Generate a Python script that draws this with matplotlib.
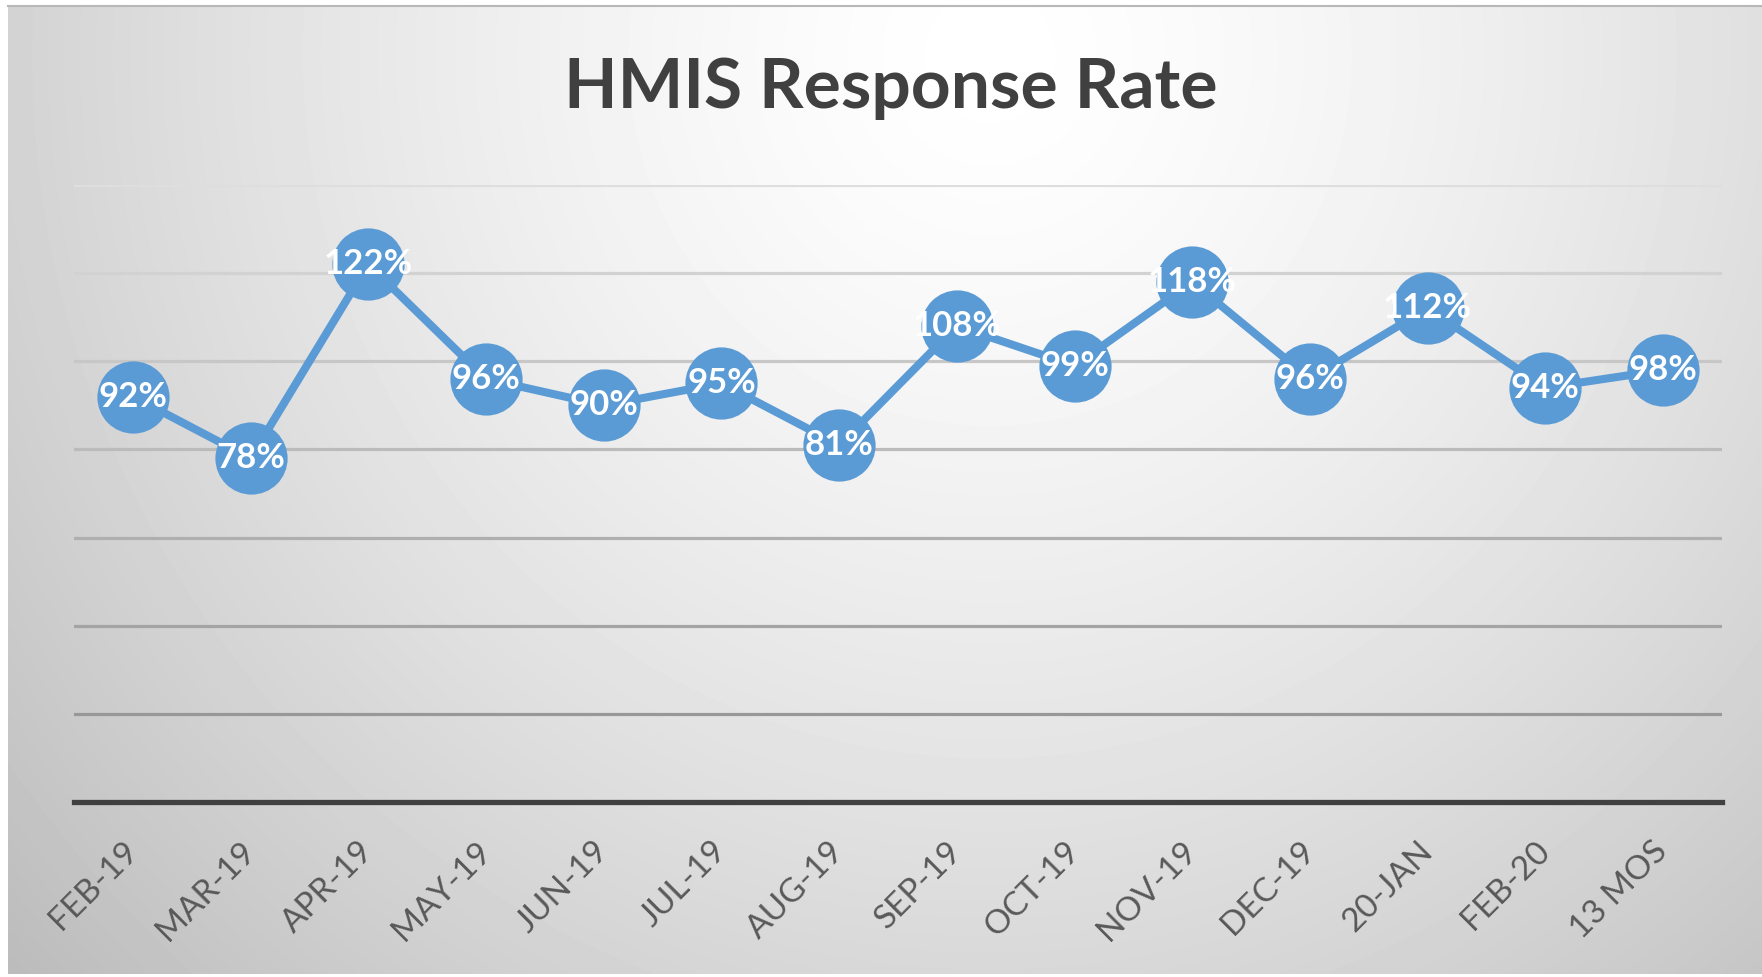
import numpy as np
import matplotlib
matplotlib.use("Agg")
import matplotlib.pyplot as plt

months = ["FEB-19", "MAR-19", "APR-19", "MAY-19", "JUN-19", "JUL-19", "AUG-19",
          "SEP-19", "OCT-19", "NOV-19", "DEC-19", "20-JAN", "FEB-20", "13 MOS"]
rate = [92, 78, 122, 96, 90, 95, 81, 108, 99, 118, 96, 112, 94, 98]
yticks = [0, 20, 40, 60, 80, 100, 120, 140]

W, H = 1762, 977
fig = plt.figure(figsize=(W / 100, H / 100), dpi=100)
fig.patch.set_facecolor("white")

# background gradient (white near top centre, grey at the edges)
bg = fig.add_axes([8 / W, 3 / H, 1 - 8 / W, 1 - 9 / H])
gx, gy = np.meshgrid(np.linspace(0, 1, 400), np.linspace(0, 1, 300))
d = np.sqrt(((gx - 0.56) / 0.62) ** 2 + ((gy - 0.05) / 1.15) ** 2)
shade = np.clip(1.0 - 0.2 * d ** 1.4, 0, 1)
bg.imshow(shade, cmap="gray", vmin=0, vmax=1, aspect="auto",
          extent=(0, 1, 1, 0), interpolation="bicubic")
bg.set_axis_off()
fig.add_artist(plt.Line2D([8 / W, 1], [1 - 6 / H, 1 - 6 / H], color="#b8b8b8", lw=1.5))

ax = fig.add_axes([74 / W, 1 - 802 / H, (1722 - 74) / W, (802 - 185) / H])
ax.patch.set_alpha(0)
x = np.arange(len(months))

# gridlines, lighter toward the top
for v in yticks[1:]:
    g = 0.55 + 0.32 * (v / 140)
    ax.axhline(v, color=(g, g, g), lw=2.3, zorder=1)
ax.axhline(0, color="#404040", lw=3.8, zorder=2, clip_on=False)

ax.plot(x, rate, color="#5B9BD5", lw=5.8, marker="o", markersize=52,
        markerfacecolor="#5B9BD5", markeredgewidth=0, zorder=3)
for xi, v in zip(x, rate):
    ax.text(xi, v, f"{v}%", color="white", fontsize=25, fontweight="bold",
            family="Lato", ha="center", va="center", zorder=4)

ax.set_xlim(-0.5, len(months) - 0.5)
ax.set_ylim(0, 140)
ax.set_xticks(x)
ax.set_xticklabels(months, rotation=45, ha="right", va="center",
                   rotation_mode="anchor", fontsize=24, color="#595959", family="Lato")
ax.tick_params(axis="x", length=0, pad=32)
ax.set_yticks([])
for s in ax.spines.values():
    s.set_visible(False)

fig.text(891 / W, 1 - 88 / H, "HMIS Response Rate", ha="center", va="center",
         fontsize=50, fontweight="bold", color="#404040", family="Lato")

fig.savefig("out.png", dpi=100)
